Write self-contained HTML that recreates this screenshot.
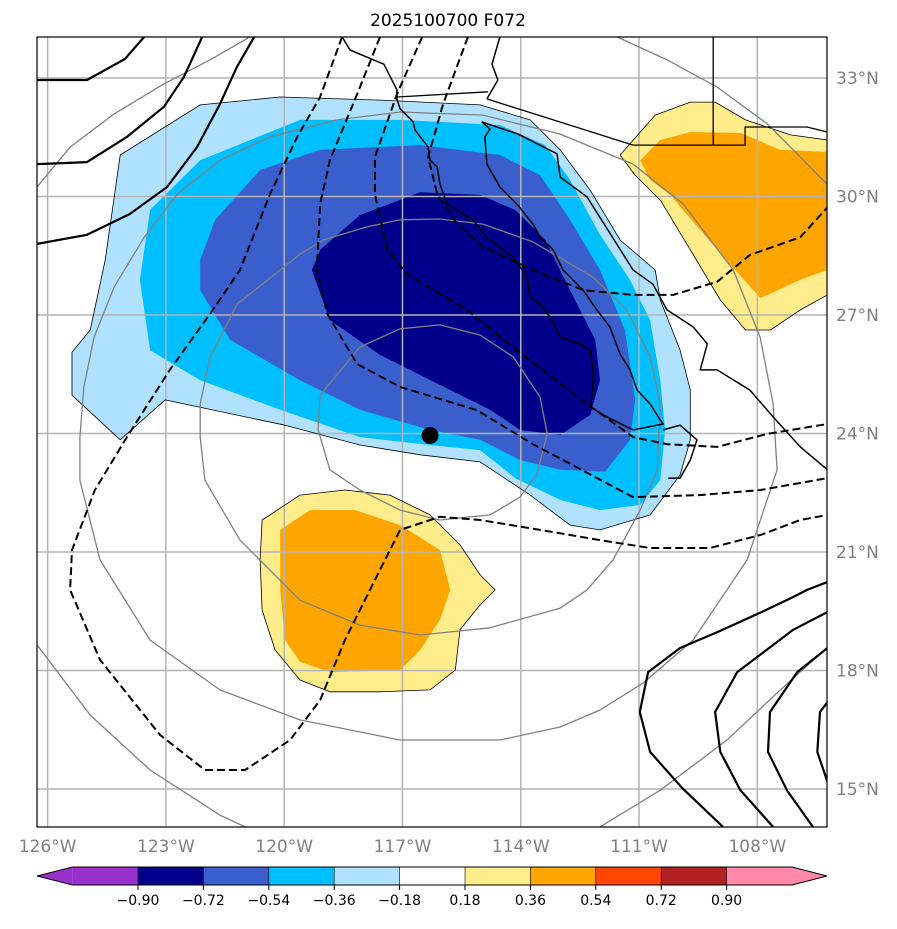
<!DOCTYPE html>
<html><head><meta charset="utf-8"><style>
html,body{margin:0;padding:0;background:#fff;}
svg text{font-family:"DejaVu Sans","Liberation Sans",sans-serif;}
</style></head><body>
<svg id="chart" width="897" height="924" viewBox="0 0 897 924" xmlns="http://www.w3.org/2000/svg">
<defs><clipPath id="mapclip"><rect x="37" y="37" width="790" height="790"/></clipPath></defs>
<rect x="0" y="0" width="897" height="924" fill="#fff"/>
<text x="448" y="26" text-anchor="middle" font-size="17" fill="#000">2025100700 F072</text>
<g id="map" clip-path="url(#mapclip)"></g>
<rect x="37" y="37" width="790" height="790" fill="none" stroke="#000" stroke-width="1.2"/>
<g id="axes"></g>
<g id="cbar"></g>
</svg>
<script>
// ---- data (lon/lat) ----
const lonTicks = [-126,-123,-120,-117,-114,-111,-108];
const latTicks = [33,30,27,24,21,18,15];
const cbarLevels = ["−0.90","−0.72","−0.54","−0.36","−0.18","0.18","0.36","0.54","0.72","0.90"];
const cbarColors = ["#9932CC","#00008B","#3A5FCD","#00BFFF","#B0E2FF","#FFFFFF","#FFEC8B","#FFA500","#FF4500","#B22222","#FF88AA"];

const shadeLightBlue = [[-125.38,26.06],[-125.38,24.97],[-124.16,23.84],[-123.02,24.85],[-119.98,24.21],[-118.08,23.71],[-116.55,23.46],[-115.03,23.28],[-113.76,22.44],[-112.75,21.68],[-111.99,21.56],[-110.72,21.94],[-109.96,22.95],[-109.7,23.84],[-109.7,25.1],[-109.96,26.11],[-110.46,27.38],[-110.59,28.14],[-111.48,28.9],[-112.24,30.16],[-113,31.18],[-113.76,31.94],[-115.03,32.32],[-117.57,32.44],[-120.1,32.52],[-122.13,32.32],[-124.16,31.05],[-124.54,28.39],[-124.92,26.62]];
const shadeSkyBlue = [[-123.4,26.11],[-122.13,25.35],[-120.1,24.6],[-118.08,23.91],[-116.3,23.71],[-115.03,23.58],[-114.14,22.87],[-113,22.32],[-111.99,22.06],[-110.97,22.19],[-110.46,22.82],[-110.34,24.09],[-110.46,25.35],[-110.72,26.87],[-111.23,27.89],[-111.99,29.03],[-112.75,30.42],[-113.38,31.3],[-114.53,31.81],[-117.06,31.94],[-119.6,31.94],[-122.13,30.92],[-123.4,29.66],[-123.66,27.89]];
const shadeRoyalBlue = [[-122.13,27.63],[-121.37,26.37],[-119.6,25.35],[-118.08,24.6],[-116.3,24.09],[-115.03,23.84],[-114.02,23.33],[-113,23.08],[-111.86,23.03],[-111.23,23.84],[-111.1,24.85],[-111.36,26.62],[-111.99,28.14],[-112.75,29.41],[-113.51,30.54],[-114.53,31.05],[-116.55,31.3],[-119.09,31.18],[-120.61,30.67],[-121.75,29.41],[-122.13,28.39]];
const shadeNavy = [[-119.3,28.14],[-118.84,26.87],[-117.57,25.99],[-116.05,25.23],[-114.78,24.6],[-114.02,24.09],[-113,23.96],[-112.24,24.47],[-111.99,25.35],[-112.11,26.37],[-112.75,27.63],[-113.38,28.9],[-114.14,29.66],[-115.03,30.04],[-116.55,30.11],[-118.08,29.53],[-119.09,28.65]];
const shadeYellowNE = [[-111.48,31.05],[-110.59,32.06],[-109.7,32.39],[-109.07,32.39],[-108.3,31.94],[-107.16,31.56],[-106.22,31.43],[-106.22,27.51],[-106.91,27.13],[-107.67,26.62],[-108.3,26.62],[-108.94,27.38],[-109.7,28.65],[-110.46,29.91],[-111.1,30.54]];
const shadeOrangeNE = [[-110.97,30.92],[-110.46,31.43],[-109.7,31.63],[-108.43,31.61],[-107.42,31.18],[-106.22,31.13],[-106.22,28.14],[-106.91,27.89],[-107.92,27.43],[-108.68,28.27],[-109.45,29.15],[-110.21,30.04],[-110.72,30.42]];
const shadeYellowSW = [[-120.56,21.81],[-119.6,22.44],[-118.46,22.57],[-117.32,22.44],[-116.3,21.94],[-115.54,21.18],[-115.03,20.42],[-114.65,20.04],[-115.03,19.66],[-115.54,19.03],[-115.66,18.01],[-116.3,17.51],[-117.57,17.46],[-118.84,17.46],[-119.6,17.76],[-120.23,18.52],[-120.56,19.53],[-120.61,20.8]];
const shadeOrangeSW = [[-120.1,21.56],[-119.34,22.06],[-118.2,22.06],[-117.06,21.68],[-116.05,21.05],[-115.79,20.04],[-116.05,19.28],[-116.55,18.52],[-117.06,18.01],[-118.84,17.96],[-119.6,18.22],[-119.98,18.77],[-120.1,20.04]];

const greyRing1 = [[-119.09,24.97],[-118.08,26.19],[-117.06,26.65],[-116.05,26.75],[-115.03,26.49],[-114.19,25.94],[-113.51,24.92],[-113.33,23.99],[-113.59,22.97],[-114.02,22.39],[-114.78,21.94],[-116.05,21.81],[-117.06,22.06],[-118.08,22.57],[-118.84,23.08],[-119.14,24.09]];
const greyRing2 = [[-119.6,28.54],[-119.01,28.9],[-117.9,29.23],[-117.06,29.41],[-116.05,29.43],[-114.96,29.3],[-113.69,28.85],[-112.17,27.96],[-111.31,27.13],[-110.72,25.94],[-110.46,24.75],[-110.54,23.08],[-110.97,22.06],[-111.66,20.8],[-112.32,20.04],[-113.0,19.58],[-114.78,19.08],[-116.55,18.9],[-118.08,19.15],[-119.6,19.78],[-121.12,21.3],[-122.01,22.82],[-122.13,23.91],[-122.13,24.75],[-121.88,25.94],[-121.19,27.28],[-120.0,28.22]];
const greyRing3 = [[-125.18,23.91],[-125.08,25.18],[-124.82,26.44],[-124.31,27.71],[-123.55,28.97],[-122.71,30.06],[-121.63,30.92],[-120.36,31.51],[-118.66,31.94],[-117.06,32.14],[-114.96,32.06],[-113.0,31.58],[-111.15,30.82],[-109.88,29.81],[-108.61,28.14],[-107.93,26.44],[-107.6,24.75],[-107.5,23.08],[-108.26,20.8],[-109.63,18.77],[-110.9,17.68],[-111.99,17.0],[-113.0,16.57],[-114.53,16.24],[-117.06,16.24],[-119.6,16.75],[-121.63,17.51],[-123.4,18.77],[-124.67,20.8],[-125.18,22.82]];
const greyOuterNW = [[-126.27,30.24],[-125.43,31.25],[-124.31,32.09],[-123.05,32.85],[-121.88,33.46],[-120.87,34.04]];
const greyOuterNE = [[-111.56,34.04],[-110.29,33.46],[-109.02,32.77],[-107.75,31.84],[-106.91,31.0],[-106.22,30.29]];
const greyOuterSE = [[-111.99,14.04],[-110.46,14.97],[-108.77,16.24],[-107.5,17.43],[-106.22,18.59]];
const greyOuterSW = [[-126.27,18.65],[-124.92,16.87],[-123.4,15.48],[-121.63,14.34],[-120.99,14.04]];

const dashA = [[-118.53,34.04],[-119.09,32.52],[-119.67,31.51],[-120.36,30.06],[-121.12,28.14],[-121.88,27.03],[-122.9,25.61],[-123.99,23.91],[-124.8,22.57],[-125.38,21.05],[-125.43,20.04],[-124.67,18.27],[-123.15,16.37],[-122.01,15.48],[-120.99,15.48],[-119.85,16.24],[-119.09,17.25],[-118.46,18.77],[-117.7,20.29],[-117.06,21.56],[-116.05,21.89],[-115.03,21.81],[-113.51,21.56],[-111.99,21.3],[-110.72,21.1],[-109.2,21.1],[-107.92,21.43],[-106.91,21.81],[-106.22,21.94]];
const dashB = [[-117.57,34.04],[-118.15,32.59],[-118.84,30.92],[-119.09,29.81],[-119.17,28.14],[-118.91,27.03],[-118.15,25.76],[-117.06,25.18],[-115.11,24.59],[-113.69,23.73],[-111.15,22.39],[-109.45,22.44],[-107.92,22.57],[-106.22,22.87]];
const dashC = [[-116.5,34.04],[-117.14,32.59],[-117.7,31.0],[-117.7,30.06],[-117.39,28.65],[-116.89,28.04],[-115.36,27.13],[-114.1,26.11],[-112.32,24.75],[-111.15,23.91],[-110.29,23.73],[-109.02,23.66],[-107.75,23.99],[-106.22,24.24]];
const dashD = [[-115.34,34.04],[-115.97,32.34],[-116.35,31.0],[-116.12,30.06],[-115.61,29.3],[-114.95,28.72],[-113.69,28.14],[-112.42,27.63],[-111.15,27.51],[-110.14,27.51],[-109.02,27.84],[-108.19,28.52],[-106.91,28.97],[-106.22,29.73]];

const solidNW1 = [[-126.27,32.95],[-125.0,32.95],[-124.04,33.48],[-123.55,34.04]];
const solidNW2 = [[-126.27,30.82],[-125.0,30.87],[-123.99,31.51],[-123.05,32.27],[-122.54,33.03],[-122.08,34.04]];
const solidNW3 = [[-126.27,28.8],[-125.0,29.03],[-123.91,29.56],[-122.97,30.24],[-122.21,31.25],[-121.63,32.34],[-121.2,33.28],[-120.76,34.04]];
const solidSE1 = [[-106.22,20.24],[-106.74,20.04],[-107.09,19.86],[-107.93,19.46],[-109.02,18.97],[-109.96,18.57],[-110.77,17.96],[-110.98,16.95],[-110.72,15.94],[-109.91,15.03],[-108.87,14.04]];
const solidSE2 = [[-106.22,19.48],[-107.09,19.03],[-108.51,17.96],[-109.07,16.95],[-108.94,15.94],[-108.43,14.97],[-107.6,14.04]];
const solidSE3 = [[-106.22,18.57],[-106.99,17.96],[-107.68,16.95],[-107.73,15.94],[-107.25,14.97],[-106.59,14.04]];
const solidSE4 = [[-106.22,17.2],[-106.41,16.95],[-106.48,15.94],[-106.22,15.18]];

const coastBaja = [[-118.53,34.04],[-118.33,33.71],[-117.47,33.35],[-117.14,32.7],[-117.14,32.47],[-117.06,32.22],[-116.73,31.89],[-116.68,31.68],[-116.35,31.25],[-116.3,30.92],[-116.12,30.75],[-116.05,30.32],[-115.87,29.81],[-115.21,29.41],[-114.86,28.97],[-114.2,28.47],[-113.84,27.96],[-113.77,27.46],[-113.51,27.28],[-113.26,26.95],[-113.0,26.44],[-112.5,26.27],[-112.24,26.11],[-112.17,25.61],[-112.17,25.1],[-112.24,24.67],[-111.81,24.42],[-111.15,24.09],[-110.39,24.24],[-110.46,24.34],[-110.72,24.75],[-111.05,25.1],[-111.23,25.61],[-111.48,26.01],[-111.74,26.7],[-112.07,27.13],[-112.42,27.63],[-112.93,28.14],[-113.18,28.65],[-113.51,28.97],[-113.69,29.3],[-114.1,29.81],[-114.53,30.24],[-114.86,30.82],[-114.91,31.51],[-114.78,31.71],[-114.99,31.89]];
const coastMainland = [[-114.99,31.89],[-114.07,31.58],[-113.08,31.08],[-113.0,30.49],[-112.32,29.99],[-111.15,28.14],[-110.65,27.78],[-110.29,27.13],[-109.63,26.7],[-109.27,26.27],[-109.45,25.61],[-109.02,25.61],[-108.19,25.1],[-107.6,24.42],[-106.91,23.66],[-106.22,23.08]];
const coastTip = [[-110.39,24.09],[-109.96,24.21],[-109.53,23.84],[-109.7,23.33],[-109.96,22.87],[-110.26,22.87]];
const coastRiver = [[-114.53,34.04],[-114.73,33.35],[-114.58,32.95],[-114.86,32.47]];
const borderMain = [[-114.86,32.47],[-111.15,31.3],[-108.31,31.3],[-108.31,31.76],[-106.74,31.76],[-106.22,31.63]];
const borderNorth = [[-117.14,32.52],[-114.83,32.65]];
const borderState = [[-109.12,34.04],[-109.12,31.3]];
const stormCenter = [-116.3, 23.95];

// ---- axis functions ----
const X0 = 47.6, PXLON = 39.43, Y0 = 78, PXLAT = 39.5;
function xs(lon){ return X0 + (lon + 126) * PXLON; }
function ys(lat){ return Y0 + (33 - lat) * PXLAT; }
const NS = "http://www.w3.org/2000/svg";
const map = document.getElementById('map');
const axes = document.getElementById('axes');
const cbar = document.getElementById('cbar');
function ptsStr(arr){ return arr.map(p => xs(p[0]).toFixed(1) + ',' + ys(p[1]).toFixed(1)).join(' '); }
function addPoly(parent, arr, closed, fill, stroke, sw, dash, name){
  const el = document.createElementNS(NS, closed ? 'polygon' : 'polyline');
  el.setAttribute('points', ptsStr(arr));
  el.setAttribute('fill', fill);
  el.setAttribute('stroke', stroke);
  el.setAttribute('stroke-width', sw);
  el.setAttribute('stroke-linejoin', 'round');
  if (dash) el.setAttribute('stroke-dasharray', dash);
  
  
  parent.appendChild(el);
  return el;
}
addPoly(map, shadeLightBlue, true, cbarColors[4], 'none', 0, null, 'shade-neg-018');
addPoly(map, shadeSkyBlue, true, cbarColors[3], 'none', 0, null, 'shade-neg-036');
addPoly(map, shadeRoyalBlue, true, cbarColors[2], 'none', 0, null, 'shade-neg-054');
addPoly(map, shadeNavy, true, cbarColors[1], 'none', 0, null, 'shade-neg-072');
addPoly(map, shadeYellowNE, true, cbarColors[6], 'none', 0, null, 'shade-pos-018-ne');
addPoly(map, shadeOrangeNE, true, cbarColors[7], 'none', 0, null, 'shade-pos-036-ne');
addPoly(map, shadeYellowSW, true, cbarColors[6], 'none', 0, null, 'shade-pos-018-sw');
addPoly(map, shadeOrangeSW, true, cbarColors[7], 'none', 0, null, 'shade-pos-036-sw');
lonTicks.forEach(function(l){
  const g = document.createElementNS(NS, 'line');
  g.setAttribute('x1', xs(l)); g.setAttribute('x2', xs(l));
  g.setAttribute('y1', 37); g.setAttribute('y2', 827);
  g.setAttribute('stroke', '#b4b4b4'); g.setAttribute('stroke-width', 1.5);
  
  
  map.appendChild(g);
  const t = document.createElementNS(NS, 'text');
  t.setAttribute('x', xs(l)); t.setAttribute('y', 852);
  t.setAttribute('text-anchor', 'middle'); t.setAttribute('font-size', 17); t.setAttribute('fill', '#808080');
  t.textContent = Math.abs(l) + '°W';
  
  
  axes.appendChild(t);
});
latTicks.forEach(function(l){
  const g = document.createElementNS(NS, 'line');
  g.setAttribute('y1', ys(l)); g.setAttribute('y2', ys(l));
  g.setAttribute('x1', 37); g.setAttribute('x2', 827);
  g.setAttribute('stroke', '#b4b4b4'); g.setAttribute('stroke-width', 1.5);
  
  
  map.appendChild(g);
  const t = document.createElementNS(NS, 'text');
  t.setAttribute('x', 836); t.setAttribute('y', ys(l) + 6);
  t.setAttribute('font-size', 17); t.setAttribute('fill', '#808080');
  t.textContent = l + '°N';
  
  
  axes.appendChild(t);
});
addPoly(map, shadeLightBlue, true, 'none', '#000', 0.8, null, 'contour-thin-neg');
addPoly(map, shadeYellowNE, true, 'none', '#000', 0.8, null, 'contour-thin-pos-ne');
addPoly(map, shadeYellowSW, true, 'none', '#000', 0.8, null, 'contour-thin-pos-sw');
[greyRing1, greyRing2, greyRing3].forEach(function(r){ addPoly(map, r, true, 'none', '#808080', 1.3, null, 'grey-contour-ring'); });
[greyOuterNW, greyOuterNE, greyOuterSE, greyOuterSW].forEach(function(r){ addPoly(map, r, false, 'none', '#808080', 1.3, null, 'grey-contour-outer'); });
[coastBaja, coastMainland, coastTip, coastRiver].forEach(function(c){ addPoly(map, c, false, 'none', '#000', 1.5, null, 'coastline'); });
[borderMain, borderNorth, borderState].forEach(function(c){ addPoly(map, c, false, 'none', '#000', 1.3, null, 'border'); });
[dashA, dashB, dashC, dashD].forEach(function(c){ addPoly(map, c, false, 'none', '#000', 2, '8,4', 'dashed-contour'); });
[solidNW1, solidNW2, solidNW3, solidSE1, solidSE2, solidSE3, solidSE4].forEach(function(c){ addPoly(map, c, false, 'none', '#000', 2.2, null, 'solid-contour'); });
const dot = document.createElementNS(NS, 'circle');
dot.setAttribute('cx', xs(stormCenter[0])); dot.setAttribute('cy', ys(stormCenter[1])); dot.setAttribute('r', 8.5);
dot.setAttribute('fill', '#000');


map.appendChild(dot);

// ---- colorbar ----
const CB_L = 72.6, CB_W = 65.4, CB_T = 867, CB_B = 885, CB_TIP_L = 37, CB_TIP_R = 827;
(function(){
  const tri = document.createElementNS(NS, 'polygon');
  tri.setAttribute('points', CB_TIP_L + ',' + (CB_T+CB_B)/2 + ' ' + CB_L + ',' + CB_T + ' ' + CB_L + ',' + CB_B);
  tri.setAttribute('fill', cbarColors[0]);
  
  
  cbar.appendChild(tri);
})();
for (let i = 0; i < cbarColors.length; i++) {
  const r = document.createElementNS(NS, 'rect');
  r.setAttribute('x', CB_L + i * CB_W); r.setAttribute('y', CB_T);
  r.setAttribute('width', i === cbarColors.length - 1 ? CB_W : CB_W + 0.5); r.setAttribute('height', CB_B - CB_T);
  r.setAttribute('fill', cbarColors[i]);
  
  
  cbar.appendChild(r);
}
(function(){
  const xr = CB_L + cbarColors.length * CB_W;
  const tri = document.createElementNS(NS, 'polygon');
  tri.setAttribute('points', xr + ',' + CB_T + ' ' + CB_TIP_R + ',' + (CB_T+CB_B)/2 + ' ' + xr + ',' + CB_B);
  tri.setAttribute('fill', cbarColors[cbarColors.length-1]);
  
  
  cbar.appendChild(tri);
  const outline = document.createElementNS(NS, 'polygon');
  outline.setAttribute('points', CB_TIP_L + ',' + (CB_T+CB_B)/2 + ' ' + CB_L + ',' + CB_T + ' ' + xr + ',' + CB_T + ' ' + CB_TIP_R + ',' + (CB_T+CB_B)/2 + ' ' + xr + ',' + CB_B + ' ' + CB_L + ',' + CB_B);
  outline.setAttribute('fill', 'none'); outline.setAttribute('stroke', '#000'); outline.setAttribute('stroke-width', 1);
  
  
  cbar.appendChild(outline);
})();
cbarLevels.forEach(function(lbl, i){
  const x = CB_L + (i + 1) * CB_W;
  const tk = document.createElementNS(NS, 'line');
  tk.setAttribute('x1', x); tk.setAttribute('x2', x); tk.setAttribute('y1', CB_B); tk.setAttribute('y2', CB_B + 5);
  tk.setAttribute('stroke', '#000'); tk.setAttribute('stroke-width', 1);
  
  
  cbar.appendChild(tk);
  const sep = document.createElementNS(NS, 'line');
  sep.setAttribute('x1', x); sep.setAttribute('x2', x); sep.setAttribute('y1', CB_T); sep.setAttribute('y2', CB_B);
  sep.setAttribute('stroke', '#000'); sep.setAttribute('stroke-width', 0.6);
  
  
  cbar.appendChild(sep);
  const t = document.createElementNS(NS, 'text');
  t.setAttribute('x', x); t.setAttribute('y', CB_B + 20);
  t.setAttribute('text-anchor', 'middle'); t.setAttribute('font-size', 14); t.setAttribute('fill', '#000');
  t.textContent = lbl;
  
  
  cbar.appendChild(t);
});
</script>
</body></html>
